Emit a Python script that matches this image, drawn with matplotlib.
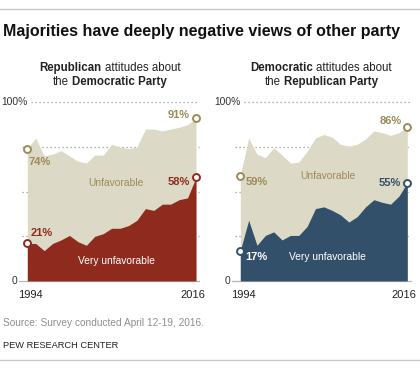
import matplotlib
matplotlib.use("Agg")
import matplotlib.pyplot as plt
from matplotlib.transforms import IdentityTransform

plt.rcParams['font.family'] = ['Liberation Sans', 'DejaVu Sans']

# ---------------- data ----------------
years = [1994.0, 1995.1, 1996.2, 1997.3, 1998.4, 1999.5, 2000.6, 2001.7, 2002.8, 2003.9,
         2005.0, 2006.1, 2007.2, 2008.3, 2009.4, 2010.5, 2011.6, 2012.7, 2013.8, 2014.9, 2016.0]
rep_unfav = [74, 80, 70, 71, 73, 70, 67, 66, 70.5, 70.5, 76.5, 75, 74, 75, 85, 85, 84, 85, 86, 87.5, 91]
rep_very = [21, 21, 17, 21, 23, 25.5, 22, 20, 25, 26.5, 29.5, 29.5, 31, 34, 40.5, 39.5, 43, 43, 45.5, 46.5, 58]
dem_unfav = [59, 80, 71, 69, 74.5, 70.5, 66, 66.5, 72.5, 80, 82, 80.5, 76.5, 75.5, 76.5, 79.5, 84, 83, 81.5, 83, 86]
dem_very = [17, 34, 20, 25.5, 27.5, 23, 25.5, 25.5, 30.5, 40.5, 41.5, 39.5, 37, 33, 36, 41.5, 45.5, 44, 43, 47.5, 55]
grid_values = [25, 50, 75, 100]
year_ticks = ['1994', '2016']

title = "Majorities have deeply negative views of other party"
source = "Source: Survey conducted April 12-19, 2016."
credit = "PEW RESEARCH CENTER"

# ---------------- style ----------------
W, H = 420, 370
BEIGE = '#dcd9c6'
OLIVE = '#9c8b57'
RED = '#8e2b1e'
SLATE = '#33506a'
GRID = '#9a9a9a'

fig = plt.figure(figsize=(W / 100, H / 100), dpi=100)
renderer = fig.canvas.get_renderer()


def px(x, y):
    return (x / W, 1 - y / H)


def P(v):
    return v * 0.72  # pixels -> points


def fig_text_px(x, y, s, **kw):
    return fig.text(x, H - y, s, transform=IdentityTransform(), **kw)


def mixed_line(xc, ybase, parts, size, color='#222222'):
    texts = []
    gap = 0.28 * size / 0.72
    widths = []
    for s, w in parts:
        t = fig_text_px(0, ybase, s, fontsize=size, fontweight=w, color=color, va='baseline', ha='left')
        texts.append(t)
        widths.append(t.get_window_extent(renderer).width)
    total = sum(widths) + gap * (len(parts) - 1)
    x = xc - total / 2
    for t, w in zip(texts, widths):
        t.set_x(x)
        x += w + gap


# title (fit to width)
tt = fig_text_px(3, 36, title, fontsize=12, fontweight='bold', va='baseline', ha='left',
                 family=['Liberation Sans Narrow', 'Liberation Sans', 'DejaVu Sans'], color='#111111')
w0 = tt.get_window_extent(renderer).width
tt.set_fontsize(12 * 395 / w0)

# separators
fig.add_artist(plt.Line2D([0, 1], [1 - 9 / H, 1 - 9 / H], color='#c8c8c8', lw=1.0))
fig.add_artist(plt.Line2D([0, 1], [1 - 360 / H, 1 - 360 / H], color='#c8c8c8', lw=1.0))

# subtitles
mixed_line(110, 71, [("Republican", 'bold'), ("attitudes about", 'normal')], 8.3)
mixed_line(110, 85, [("the", 'normal'), ("Democratic Party", 'bold')], 8.3)
mixed_line(321, 71, [("Democratic", 'bold'), ("attitudes about", 'normal')], 8.3)
mixed_line(321, 85, [("the", 'normal'), ("Republican Party", 'bold')], 8.3)

# footer
fig_text_px(3, 326, source, fontsize=7.3, color='#8f8f8f', va='baseline', ha='left')
fig_text_px(3, 348, credit, fontsize=6.7, color='#222222', va='baseline', ha='left')


def panel(left_px, right_px, unfav, very, dark, labels):
    top_px, bot_px = 102.3, 281.0
    ax = fig.add_axes([left_px / W, 1 - bot_px / H, (right_px - left_px) / W, (bot_px - top_px) / H])
    ax.set_xlim(years[0], years[-1])
    ax.set_ylim(0, 100)
    ax.axis('off')
    span = right_px - left_px
    tr = ax.get_yaxis_transform()
    for v in grid_values:
        x0 = -5 / span if v < 100 else 3.5 / span
        ax.plot([x0, 1 + 3.5 / span], [v, v], transform=tr, color=GRID, lw=0.9,
                ls=(0, (1, 2.2)), clip_on=False, zorder=0)
    ax.plot([-8 / span, 1 + 3.5 / span], [0, 0], transform=tr, color='#b5b5b5', lw=0.9,
            clip_on=False, zorder=0)
    ax.fill_between(years, 0, unfav, color=BEIGE, lw=0, zorder=1)
    ax.fill_between(years, 0, very, color=dark, lw=0, zorder=2)
    # y tick labels
    for v, s in [(100, '100%'), (0, '0')]:
        ax.annotate(s, xy=(0, v), xycoords=tr, xytext=(P(-12.5), 0), textcoords='offset points',
                    ha='center', va='center', fontsize=7.4, color='#333333')
    # x tick labels
    ax.annotate(year_ticks[0], xy=(0, 0), xycoords='axes fraction', xytext=(P(3), P(-14)),
                textcoords='offset points', ha='center', va='center', fontsize=8, color='#222222')
    ax.annotate(year_ticks[1], xy=(1, 0), xycoords='axes fraction', xytext=(P(-3), P(-14)),
                textcoords='offset points', ha='center', va='center', fontsize=8, color='#222222')
    # end markers
    for series, col in [(unfav, OLIVE), (very, dark)]:
        ax.plot([years[0], years[-1]], [series[0], series[-1]], ls='none', marker='o', ms=5,
                mfc='white', mec=col, mew=1.4, clip_on=False, zorder=5)
    # value labels
    for (idx, series, col, ha, dx, dy) in labels:
        ax.annotate(f"{series[idx]:.0f}%", xy=(years[idx], series[idx]), xytext=(P(dx), P(dy)),
                    textcoords='offset points', ha=ha, va='center', fontsize=8, fontweight='bold',
                    color=col, zorder=6)
    return ax


ax1 = panel(27.3, 196.0, rep_unfav, rep_very, RED,
            [(0, rep_unfav, OLIVE, 'left', 1, -13),
             (0, rep_very, RED, 'left', 3, 10),
             (-1, rep_unfav, OLIVE, 'right', -6, 3),
             (-1, rep_very, RED, 'right', -6, -5)])
ax1.text(0.526, 0.547, "Unfavorable", transform=ax1.transAxes, ha='center', va='center',
         fontsize=7.4, color=OLIVE, zorder=4)
ax1.text(0.526, 0.112, "Very unfavorable", transform=ax1.transAxes, ha='center', va='center',
         fontsize=7.4, color='white', zorder=4)

ax2 = panel(240.3, 407.3, dem_unfav, dem_very, SLATE,
            [(0, dem_unfav, OLIVE, 'left', 5, -6.5),
             (0, dem_very, 'white', 'left', 5, -6),
             (-1, dem_unfav, OLIVE, 'right', -6, 6.3),
             (-1, dem_very, SLATE, 'right', -6, 0)])
ax2.text(0.527, 0.589, "Unfavorable", transform=ax2.transAxes, ha='center', va='center',
         fontsize=7.4, color=OLIVE, zorder=4)
ax2.text(0.521, 0.136, "Very unfavorable", transform=ax2.transAxes, ha='center', va='center',
         fontsize=7.4, color='white', zorder=4)

fig.savefig("out.png", dpi=100)
